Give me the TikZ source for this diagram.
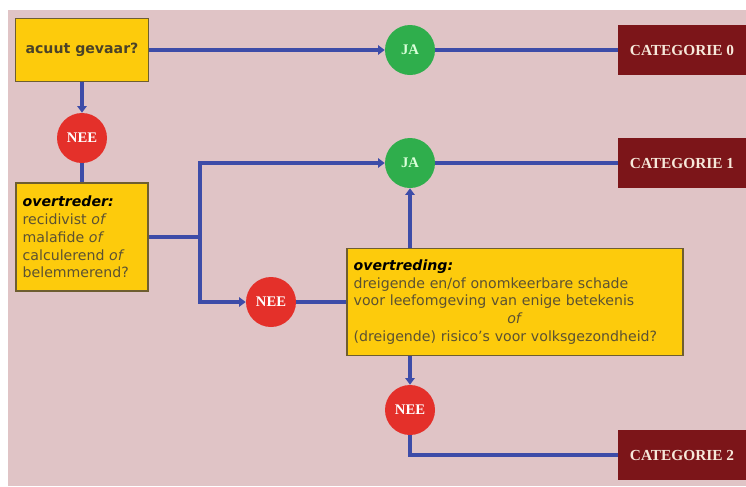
\documentclass[tikz,border=0pt]{standalone}
\usepackage{fontspec}
\setmainfont{DejaVu Sans}
\newfontfamily\catfont{Liberation Serif}
\usetikzlibrary{arrows.meta,positioning}

\definecolor{achtergrond}{HTML}{E0C4C6}
\definecolor{geel}{HTML}{FDCB0C}
\definecolor{rand}{HTML}{6E5E30}
\definecolor{tekst}{HTML}{5C5232}
\definecolor{lijn}{HTML}{3D4CA8}
\definecolor{rood}{HTML}{E4302A}
\definecolor{groen}{HTML}{2FAE4C}
\definecolor{donkerrood}{HTML}{7C1519}
\definecolor{creme}{HTML}{F6E8DA}

\begin{document}
\begin{tikzpicture}[x=0.75pt,y=-0.75pt,>={Triangle[length=5pt,width=7pt]},
	flow/.style={draw=lijn, line width=2.8pt},
	vraag/.style={
		draw=rand, fill=geel, line width=0.9pt, text=tekst,
		inner xsep=5pt, align=left,
		font={\fontsize{10.6}{13.3}\selectfont}
	},
	keuze/.style={circle, minimum size=37.5pt, inner sep=0pt,
		font=\catfont\bfseries\fontsize{11}{11}\selectfont},
	nee/.style={keuze, fill=rood, text=white},
	ja/.style={keuze, fill=groen, text=green!15},
	categorie/.style={
		fill=donkerrood, text=creme, minimum width=96pt,
		minimum height=38pt, inner sep=0pt,
		font=\catfont\bfseries\fontsize{11.5}{11.5}\selectfont
	}
]
\useasboundingbox (0,0) rectangle (746,486);
\fill[achtergrond] (8,10) rectangle (746,486);

% vragen
\node[vraag, minimum width=99.75pt, minimum height=47.25pt, align=center,
	font=\bfseries\fontsize{10.6}{12}\selectfont, text=tekst!80!black]
	(gevaar) at (82,50) {acuut gevaar?};
\node[vraag, text width=89pt, minimum height=81pt] (overtreder) at (82,237)
	{\textcolor{black}{\textbf{\textit{overtreder:}}}\\
	 recidivist \textit{of}\\ malafide \textit{of}\\
	 calculerend \textit{of}\\ belemmerend?};
\node[vraag, text width=242pt, minimum height=80.25pt] (overtreding) at (515,302)
	{\textcolor{black}{\textbf{\textit{overtreding:}}}\\
	 dreigende en/of onomkeerbare schade\\
	 voor leefomgeving van enige betekenis\\
	 \makebox[242pt]{\textit{of}}\\
	 (dreigende) risico's voor volksgezondheid?};

% antwoorden
\node[nee] (nee1) at (82,138) {NEE};
\node[nee] (nee2) at (271,302) {NEE};
\node[nee] (nee3) at (410,410) {NEE};
\node[ja] (ja1) at (410,50) {JA};
\node[ja] (ja2) at (410,163) {JA};

% categorieen
\node[categorie] (cat0) at (682,50) {CATEGORIE 0};
\node[categorie] (cat1) at (682,163) {CATEGORIE 1};
\node[categorie] (cat2) at (682,455) {CATEGORIE 2};

\coordinate (split) at (200,237);

\draw[flow,->] (gevaar) -- (ja1);
\draw[flow,->] (gevaar) -- (nee1);
\draw[flow] (nee1) -- (overtreder);
\draw[flow] (overtreder) -- (split);
\draw[flow,->] (split) |- (ja2);
\draw[flow,->] (split) |- (nee2);
\draw[flow] (nee2) -- (overtreding);
\draw[flow,->] (overtreding.north -| ja2) -- (ja2);
\draw[flow,->] (overtreding.south -| nee3) -- (nee3);
\foreach \j/\c in {ja1/cat0,ja2/cat1}
	\draw[flow] (\j) -- (\c);
\draw[flow] (nee3) |- (cat2);
\end{tikzpicture}
\end{document}
